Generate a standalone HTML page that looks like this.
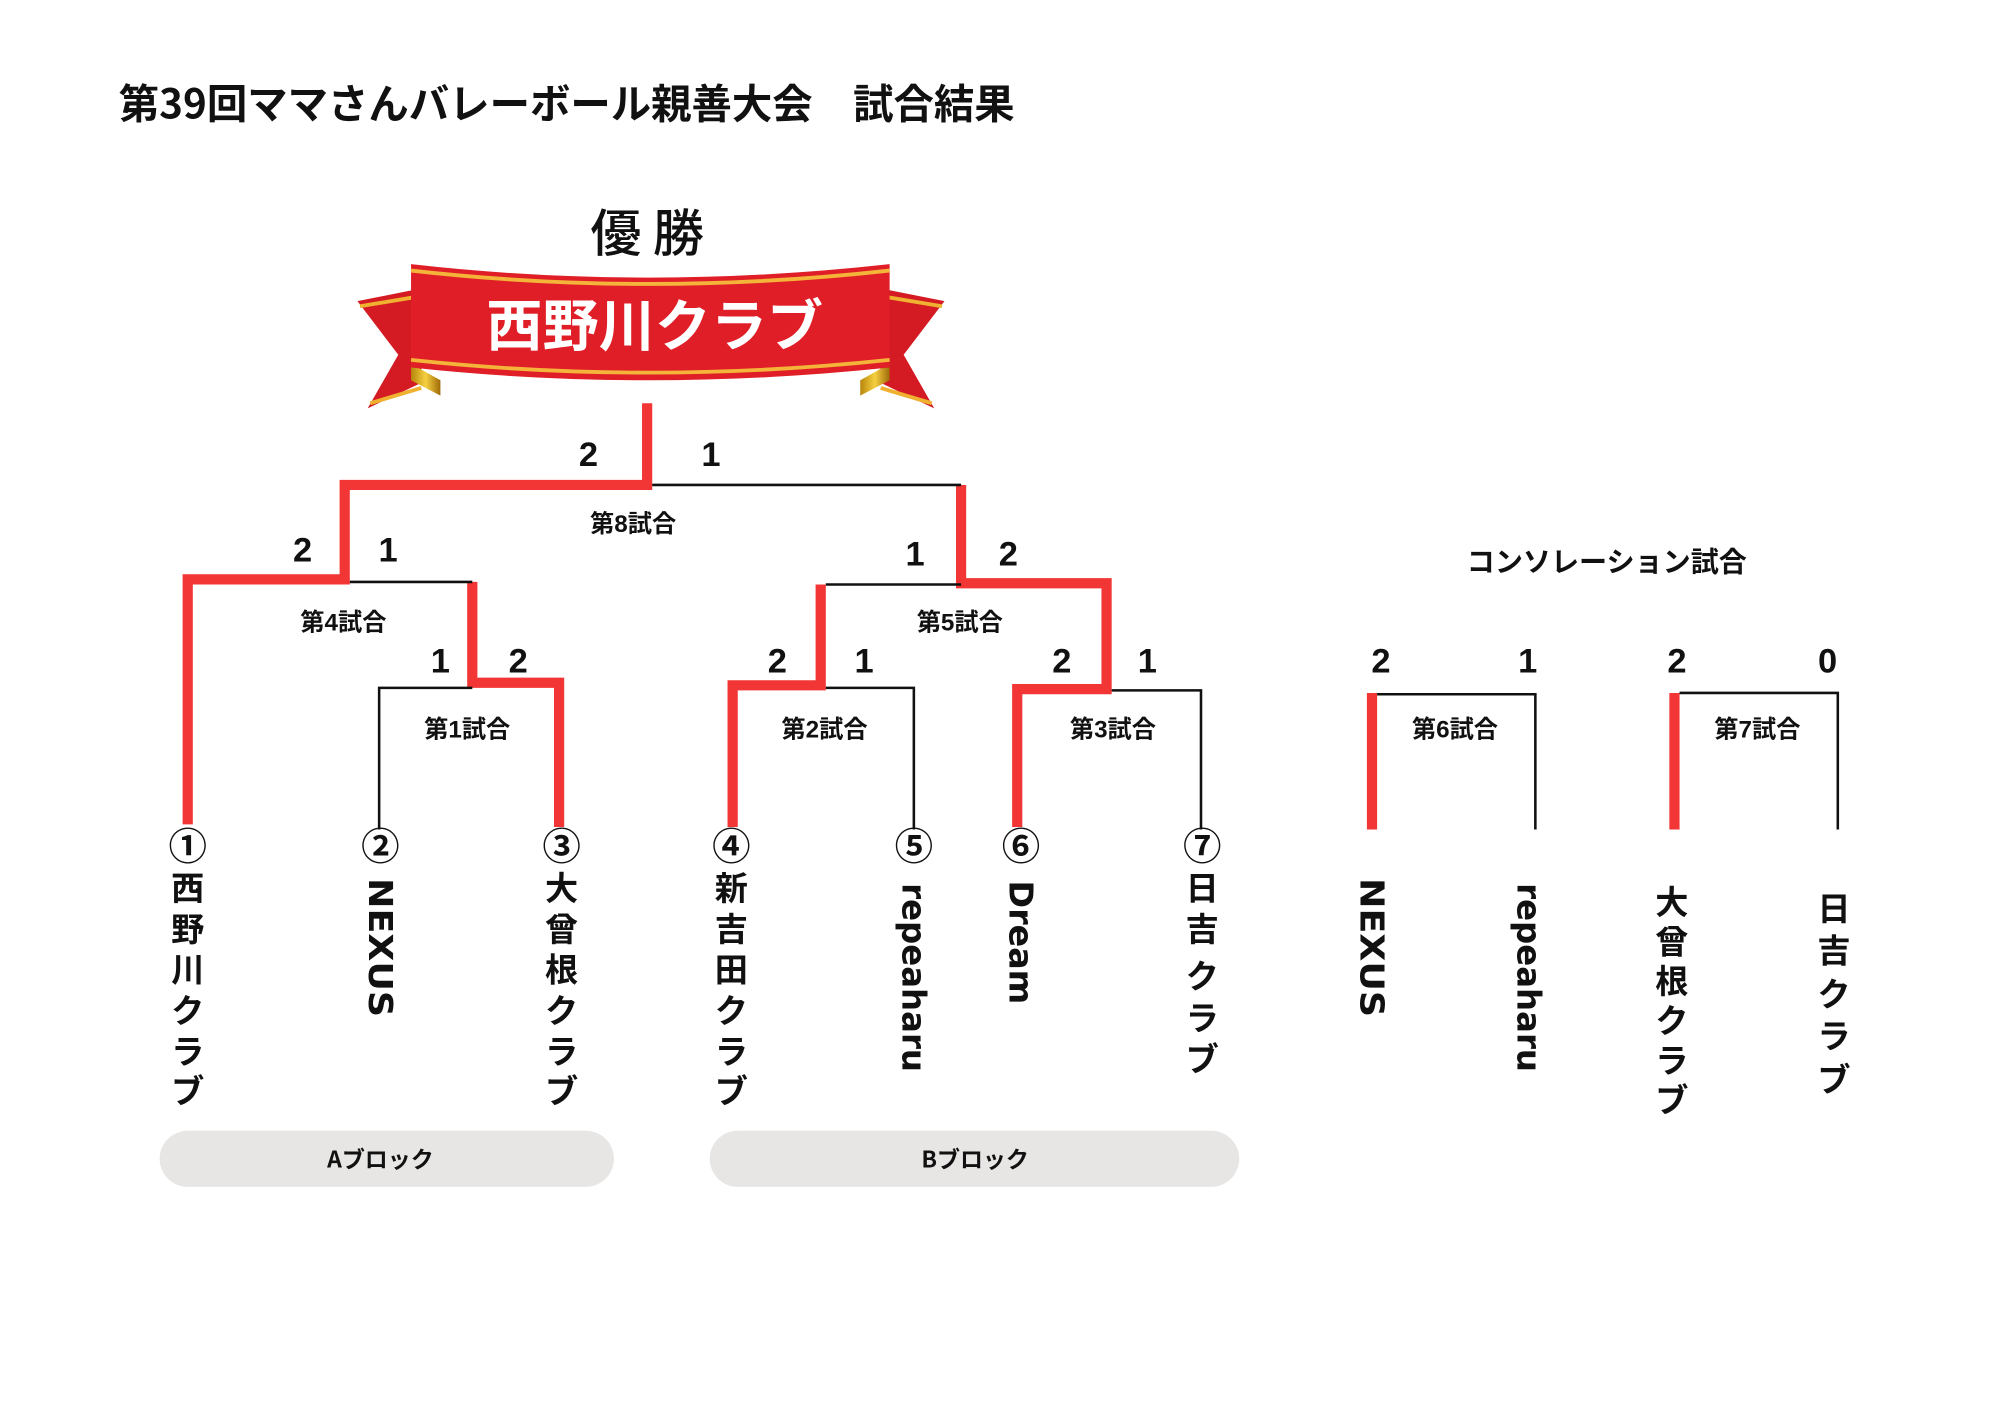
<!DOCTYPE html>
<html><head><meta charset="utf-8"><style>
html,body{margin:0;padding:0;background:#fff;}
svg{display:block;}
text{font-family:"Liberation Sans","Noto Sans CJK JP",sans-serif;font-weight:bold;fill:#111;}
.j{font-family:"Noto Sans CJK JP","Liberation Sans",sans-serif;}
.r{stroke:#f23535;stroke-width:8;fill:none;stroke-linejoin:miter;stroke-linecap:butt;}
.b{stroke:#111;stroke-width:2;fill:none;}
.s{font-size:27px;text-anchor:middle;font-family:"Liberation Sans",sans-serif;}
.g{font-size:19px;text-anchor:middle;}
.c{font-size:30px;text-anchor:middle;font-weight:normal;}
.v{font-size:26px;text-anchor:middle;dominant-baseline:central;}
.l{font-size:26px;font-family:"DejaVu Sans","Liberation Sans",sans-serif;dominant-baseline:central;}
</style></head><body>
<svg width="2000" height="1414" viewBox="0 0 1567 1108" xmlns="http://www.w3.org/2000/svg">
<text class="j" x="93" y="93" font-size="32" textLength="702" lengthAdjust="spacingAndGlyphs">第39回ママさんバレーボール親善大会　試合結果</text>
<text class="j" x="507" y="197" font-size="40" text-anchor="middle" style="font-weight:500">優 勝</text>
<defs>
<linearGradient id="gold" x1="0" y1="0" x2="1" y2="0"><stop offset="0" stop-color="#b8860b"/><stop offset="0.5" stop-color="#f5d040"/><stop offset="1" stop-color="#a06a08"/></linearGradient>
</defs>
<polygon points="280,236 330,226 330,300 288,320 312,278" fill="#d41a22"/>
<polyline points="282,240 330,232" stroke="#f0b030" stroke-width="3" fill="none"/>
<polyline points="290,316 330,304" stroke="#f0b030" stroke-width="3" fill="none"/>
<polygon points="740,236 690,226 690,300 732,320 708,278" fill="#d41a22"/>
<polyline points="738,240 690,232" stroke="#f0b030" stroke-width="3" fill="none"/>
<polyline points="730,316 690,304" stroke="#f0b030" stroke-width="3" fill="none"/>
<polygon points="322,285 345,298 345,310 322,298" fill="url(#gold)"/>
<polygon points="697,285 674,298 674,310 697,298" fill="url(#gold)"/>
<path d="M322,207 Q507,228 697,207 L697,288 Q507,308 322,288 Z" fill="#e01e27"/>
<path d="M322,212 Q507,233 697,212" stroke="#f4b43a" stroke-width="3" fill="none"/>
<path d="M322,282 Q507,302 697,282" stroke="#f4b43a" stroke-width="3" fill="none"/>
<text class="j" x="513" y="271" font-size="44" text-anchor="middle" style="fill:#fff">西野川クラブ</text>

<polyline class="r" points="507,316 507,380 270,380 270,454 147,454 147,646"/>
<polyline class="r" points="370,456 370,535 438,535 438,648"/>
<polyline class="r" points="753,380 753,457 867,457 867,540 797,540 797,648"/>
<polyline class="r" points="643,458 643,537 574,537 574,648"/>
<line class="r" x1="1075" y1="543" x2="1075" y2="650"/>
<line class="r" x1="1312" y1="543" x2="1312" y2="650"/>
<line class="b" x1="511" y1="380" x2="753" y2="380"/>
<line class="b" x1="274" y1="456" x2="370" y2="456"/>
<polyline class="b" points="297,650 297,539 370,539"/>
<line class="b" x1="647" y1="458" x2="753" y2="458"/>
<polyline class="b" points="647,539 716,539 716,650"/>
<polyline class="b" points="871,541 941,541 941,650"/>
<polyline class="b" points="1079,544 1203,544 1203,650"/>
<polyline class="b" points="1316,543 1440,543 1440,650"/>

<g class="s">
<text x="461" y="365">2</text><text x="557" y="365">1</text>
<text x="237" y="440">2</text><text x="304" y="440">1</text>
<text x="717" y="443">1</text><text x="790" y="443">2</text>
<text x="345" y="527">1</text><text x="406" y="527">2</text>
<text x="609" y="527">2</text><text x="677" y="527">1</text>
<text x="832" y="527">2</text><text x="899" y="527">1</text>
<text x="1082" y="527">2</text><text x="1197" y="527">1</text>
<text x="1314" y="527">2</text><text x="1432" y="527">0</text>
</g>
<g class="g j">
<text x="496" y="417">第8試合</text>
<text x="269" y="494">第4試合</text>
<text x="752" y="494">第5試合</text>
<text x="366" y="578">第1試合</text>
<text x="646" y="578">第2試合</text>
<text x="872" y="578">第3試合</text>
<text x="1140" y="578">第6試合</text>
<text x="1377" y="578">第7試合</text>
<text x="1259" y="448" font-size="22">コンソレーション試合</text>
</g>
<g class="c j">
<text x="147" y="674">①</text><text x="298" y="674">②</text><text x="440" y="674">③</text>
<text x="573" y="674">④</text><text x="716" y="674">⑤</text><text x="800" y="674">⑥</text><text x="942" y="674">⑦</text>
</g>
<g class="v j">
<text x="147" y="697">西</text><text x="147" y="729">野</text><text x="147" y="761">川</text><text x="147" y="793">ク</text><text x="147" y="825">ラ</text><text x="147" y="856">ブ</text>
<text x="440" y="697">大</text><text x="440" y="729">曾</text><text x="440" y="761">根</text><text x="440" y="793">ク</text><text x="440" y="825">ラ</text><text x="440" y="856">ブ</text>
<text x="573" y="697">新</text><text x="573" y="729">吉</text><text x="573" y="761">田</text><text x="573" y="793">ク</text><text x="573" y="825">ラ</text><text x="573" y="856">ブ</text>
<text x="942" y="697">日</text><text x="942" y="729">吉</text><text x="942" y="766">ク</text><text x="942" y="799">ラ</text><text x="942" y="831">ブ</text>
<text x="1310" y="708">大</text><text x="1310" y="739">曾</text><text x="1310" y="770">根</text><text x="1310" y="801">ク</text><text x="1310" y="832">ラ</text><text x="1310" y="863">ブ</text>
<text x="1437" y="713">日</text><text x="1437" y="746">吉</text><text x="1437" y="780">ク</text><text x="1437" y="813">ラ</text><text x="1437" y="847">ブ</text>
</g>
<text class="l" transform="translate(298,688) rotate(90)" textLength="109" lengthAdjust="spacingAndGlyphs">NEXUS</text>
<text class="l" transform="translate(716,692) rotate(90)" textLength="148" lengthAdjust="spacingAndGlyphs">repeaharu</text>
<text class="l" transform="translate(800,690) rotate(90)" textLength="97" lengthAdjust="spacingAndGlyphs">Dream</text>
<text class="l" transform="translate(1075,688) rotate(90)" textLength="109" lengthAdjust="spacingAndGlyphs">NEXUS</text>
<text class="l" transform="translate(1198,692) rotate(90)" textLength="148" lengthAdjust="spacingAndGlyphs">repeaharu</text>

<rect x="125" y="886" width="356" height="44" rx="22" fill="#e8e6e5"/>
<rect x="556" y="886" width="415" height="44" rx="22" fill="#e8e6e5"/>
<text class="j" x="298" y="915" font-size="18" text-anchor="middle">Aブロック</text>
<text class="j" x="764" y="915" font-size="18" text-anchor="middle">Bブロック</text>
</svg>
</body></html>
